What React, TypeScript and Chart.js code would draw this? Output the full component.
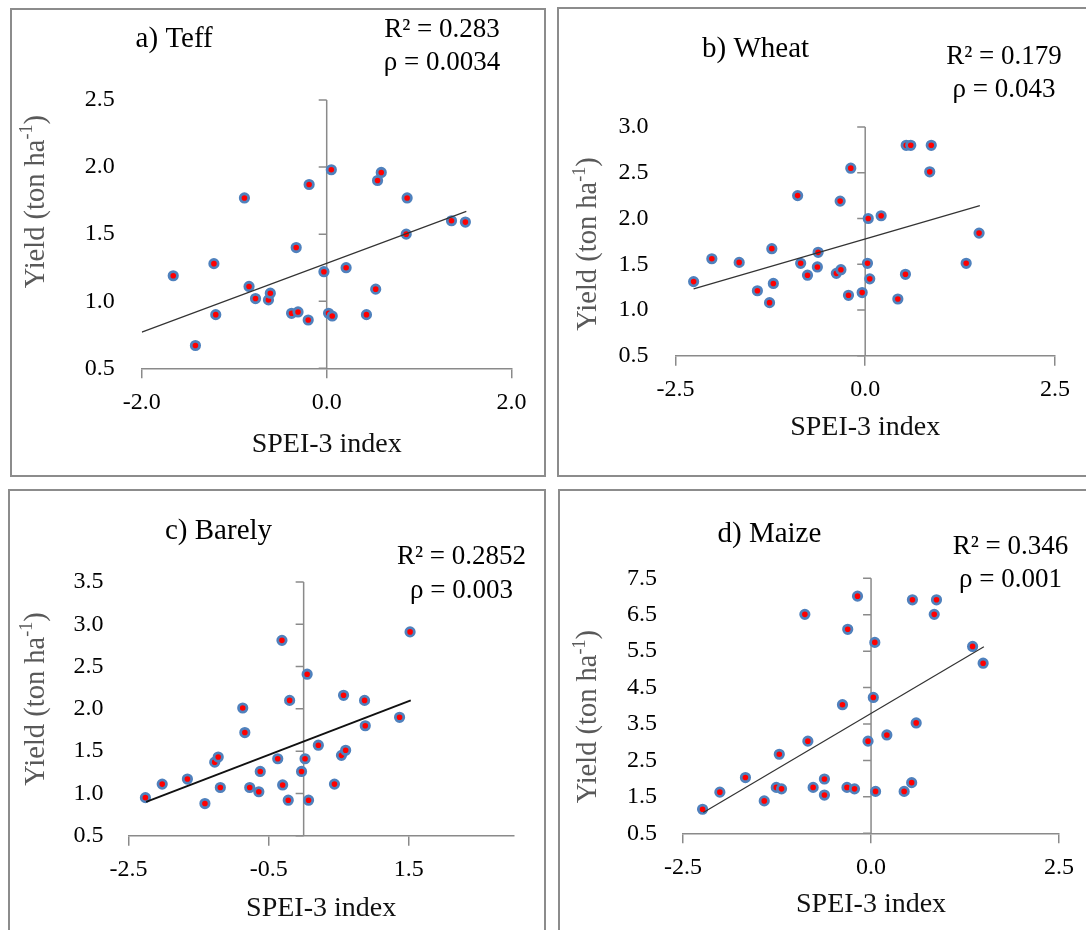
import React, { useEffect, useRef } from "react";
import { Chart, registerables } from "chart.js";

Chart.register(...registerables);

// ---------- data ----------
const teffX = [-1.66, -1.42, -1.22, -1.2, -0.89, -0.84, -0.77, -0.63, -0.61, -0.38, -0.31, -0.33, -0.2, -0.19, -0.03, 0.02, 0.06, 0.05, 0.21, 0.43, 0.53, 0.55, 0.59, 0.86, 0.87, 1.35, 1.5];
const teffY = [1.19, 0.67, 1.28, 0.9, 1.77, 1.11, 1.02, 1.01, 1.06, 0.91, 0.92, 1.4, 0.86, 1.87, 1.22, 0.91, 0.89, 1.98, 1.25, 0.9, 1.09, 1.9, 1.96, 1.5, 1.77, 1.6, 1.59];
const teffTrendX = [-2.0, 1.51];
const teffTrendY = [0.77, 1.67];
const teffXTicks = [-2.0, 0.0, 2.0];
const teffYTicks = [0.5, 1.0, 1.5, 2.0, 2.5];

const wheatX = [-2.26, -2.02, -1.66, -1.42, -1.26, -1.23, -1.21, -0.89, -0.85, -0.76, -0.63, -0.62, -0.38, -0.32, -0.33, -0.22, -0.19, -0.04, 0.03, 0.04, 0.06, 0.21, 0.43, 0.53, 0.54, 0.6, 0.87, 0.85, 1.33, 1.5];
const wheatY = [1.31, 1.56, 1.52, 1.21, 1.08, 1.67, 1.29, 2.25, 1.51, 1.38, 1.47, 1.63, 1.4, 1.44, 2.19, 1.16, 2.55, 1.19, 1.51, 2.0, 1.34, 2.03, 1.12, 1.39, 2.8, 2.8, 2.8, 2.51, 1.51, 1.84];
const wheatTrendX = [-2.26, 1.51];
const wheatTrendY = [1.23, 2.14];
const wheatXTicks = [-2.5, 0.0, 2.5];
const wheatYTicks = [0.5, 1.0, 1.5, 2.0, 2.5, 3.0];

const barleyX = [-2.26, -2.02, -1.66, -1.41, -1.27, -1.22, -1.19, -0.87, -0.84, -0.77, -0.64, -0.62, -0.37, -0.31, -0.3, -0.22, -0.2, -0.03, 0.02, 0.05, 0.07, 0.21, 0.44, 0.54, 0.57, 0.6, 0.87, 0.88, 1.37, 1.52];
const barleyY = [0.95, 1.11, 1.17, 0.88, 1.37, 1.43, 1.07, 2.01, 1.72, 1.07, 1.02, 1.26, 1.41, 2.81, 1.1, 0.92, 2.1, 1.26, 1.41, 2.41, 0.92, 1.57, 1.11, 1.45, 2.16, 1.51, 2.1, 1.8, 1.9, 2.91];
const barleyTrendX = [-2.25, 1.53];
const barleyTrendY = [0.9, 2.1];
const barleyXTicks = [-2.5, -0.5, 1.5];
const barleyYTicks = [0.5, 1.0, 1.5, 2.0, 2.5, 3.0, 3.5];

const maizeX = [-2.24, -2.01, -1.67, -1.42, -1.26, -1.19, -1.22, -0.88, -0.84, -0.77, -0.62, -0.62, -0.38, -0.32, -0.31, -0.22, -0.18, -0.04, 0.03, 0.05, 0.06, 0.21, 0.44, 0.54, 0.55, 0.6, 0.84, 0.87, 1.35, 1.49];
const maizeY = [1.16, 1.63, 2.03, 1.39, 1.76, 1.72, 2.67, 6.51, 3.03, 1.76, 1.55, 1.99, 4.03, 1.76, 6.1, 1.72, 7.01, 3.03, 4.23, 5.74, 1.65, 3.2, 1.65, 1.89, 6.91, 3.53, 6.51, 6.91, 5.63, 5.17];
const maizeTrendX = [-2.23, 1.5];
const maizeTrendY = [1.07, 5.62];
const maizeXTicks = [-2.5, 0.0, 2.5];
const maizeYTicks = [0.5, 1.5, 2.5, 3.5, 4.5, 5.5, 6.5, 7.5];

const panelTitles = ["a) Teff", "b) Wheat", "c) Barely", "d) Maize"];
const r2Labels = ["R\u00B2 = 0.283", "R\u00B2 = 0.179", "R\u00B2 = 0.2852", "R\u00B2 = 0.346"];
const rhoLabels = ["\u03C1 = 0.0034", "\u03C1 = 0.043", "\u03C1 = 0.003", "\u03C1 = 0.001"];
const xAxisTitle = "SPEI-3 index";
const yAxisTitleMain = "Yield (ton ha";
const yAxisTitleSup = "-1";
const yAxisTitleEnd = ")";

// ---------- styling / layout ----------
const FONT = "'Liberation Serif', 'Times New Roman', serif";
const AXIS_COLOR = "#8a8a8a";
const BORDER_COLOR = "#8c8c8c";

type Geo = {
  box: { left: number; top: number; width: number; height: number };
  area: { l: number; r: number; t: number; b: number };
  xr: [number, number];
  yr: [number, number];
  yPad: number;
  title: [number, number];
  r2: [number, number];
  rho: [number, number];
  yTitle: [number, number];
  xTitleY: number;
  trendWidth: number;
  trendColor: string;
};

type PanelDef = { x: number[]; y: number[]; tx: number[]; ty: number[]; xt: number[]; yt: number[]; g: Geo; idx: number };

const panels: PanelDef[] = [
  {
    x: teffX, y: teffY, tx: teffTrendX, ty: teffTrendY, xt: teffXTicks, yt: teffYTicks, idx: 0,
    g: {
      box: { left: 10, top: 8, width: 536, height: 469 },
      area: { l: 141.8, r: 511.6, t: 100, b: 368.3 },
      xr: [-2, 2], yr: [0.5, 2.5], yPad: 27,
      title: [135.6, 39.5], r2: [442, 30], rho: [442, 63.3],
      yTitle: [36.5, 201.7], xTitleY: 445, trendWidth: 1.2, trendColor: "#333333",
    },
  },
  {
    x: wheatX, y: wheatY, tx: wheatTrendX, ty: wheatTrendY, xt: wheatXTicks, yt: wheatYTicks, idx: 1,
    g: {
      box: { left: 557, top: 7, width: 540, height: 470 },
      area: { l: 675.4, r: 1055, t: 127, b: 355.7 },
      xr: [-2.5, 2.5], yr: [0.5, 3.0], yPad: 27,
      title: [702, 49], r2: [1004, 56.7], rho: [1004, 90],
      yTitle: [589, 244], xTitleY: 428, trendWidth: 1.2, trendColor: "#333333",
    },
  },
  {
    x: barleyX, y: barleyY, tx: barleyTrendX, ty: barleyTrendY, xt: barleyXTicks, yt: barleyYTicks, idx: 2,
    g: {
      box: { left: 8, top: 489, width: 538, height: 460 },
      area: { l: 128.6, r: 513.7, t: 582, b: 835.7 },
      xr: [-2.5, 3.0], yr: [0.5, 3.5], yPad: 25,
      title: [165, 531], r2: [461.5, 557.3], rho: [461.5, 590.7],
      yTitle: [36.5, 699], xTitleY: 909, trendWidth: 2, trendColor: "#111111",
    },
  },
  {
    x: maizeX, y: maizeY, tx: maizeTrendX, ty: maizeTrendY, xt: maizeXTicks, yt: maizeYTicks, idx: 3,
    g: {
      box: { left: 558, top: 489, width: 540, height: 460 },
      area: { l: 683, r: 1059.1, t: 578.3, b: 833.3 },
      xr: [-2.5, 2.5], yr: [0.5, 7.5], yPad: 26,
      title: [717.5, 534], r2: [1010.5, 546.7], rho: [1010.5, 580],
      yTitle: [589, 716.7], xTitleY: 905, trendWidth: 1.2, trendColor: "#333333",
    },
  },
];

function Panel({ p }: { p: PanelDef }) {
  const ref = useRef<HTMLCanvasElement>(null);
  const g = p.g;
  const bx = g.box.left + 2;
  const by = g.box.top + 2;
  const cw = g.box.width - 4;
  const ch = g.box.height - 4;

  useEffect(() => {
    if (!ref.current) return;
    const L = g.area.l - bx;
    const R = g.area.r - bx;
    const T = g.area.t - by;
    const B = g.area.b - by;
    const yW = 60;
    const xTitleSize = 28;
    const xH = g.xTitleY - g.area.b + (xTitleSize * 1.2) / 2;

    const decor = {
      id: "decor",
      beforeDatasetsDraw(chart: any) {
        const { ctx, chartArea, scales } = chart;
        const x0 = scales.x.getPixelForValue(0);
        ctx.save();
        ctx.strokeStyle = AXIS_COLOR;
        ctx.lineWidth = 1.5;
        ctx.beginPath();
        ctx.moveTo(x0, chartArea.top);
        ctx.lineTo(x0, chartArea.bottom);
        for (const t of scales.y.ticks) {
          const yy = scales.y.getPixelForValue(t.value);
          ctx.moveTo(x0 - 8, yy);
          ctx.lineTo(x0, yy);
        }
        ctx.stroke();
        ctx.restore();
      },
      afterDraw(chart: any) {
        const { ctx } = chart;
        ctx.save();
        ctx.fillStyle = "#000";
        ctx.textBaseline = "middle";
        ctx.font = `29px ${FONT}`;
        ctx.textAlign = "left";
        ctx.fillText(panelTitles[p.idx], g.title[0] - bx, g.title[1] - by);
        ctx.font = `27px ${FONT}`;
        ctx.textAlign = "center";
        ctx.fillText(r2Labels[p.idx], g.r2[0] - bx, g.r2[1] - by);
        ctx.fillText(rhoLabels[p.idx], g.rho[0] - bx, g.rho[1] - by);
        ctx.translate(g.yTitle[0] - bx, g.yTitle[1] - by);
        ctx.rotate(-Math.PI / 2);
        ctx.fillStyle = "#595959";
        ctx.textAlign = "left";
        const mainFont = `28.5px ${FONT}`;
        const supFont = `18px ${FONT}`;
        ctx.font = mainFont;
        const w1 = ctx.measureText(yAxisTitleMain).width;
        const w3 = ctx.measureText(yAxisTitleEnd).width;
        ctx.font = supFont;
        const w2 = ctx.measureText(yAxisTitleSup).width;
        let sx = -(w1 + w2 + w3) / 2;
        ctx.font = mainFont;
        ctx.fillText(yAxisTitleMain, sx, 0);
        sx += w1;
        ctx.font = supFont;
        ctx.fillText(yAxisTitleSup, sx, -9);
        sx += w2;
        ctx.font = mainFont;
        ctx.fillText(yAxisTitleEnd, sx, 0);
        ctx.restore();
      },
    };

    const chart = new Chart(ref.current, {
      type: "scatter",
      data: {
        datasets: [
          {
            type: "scatter",
            data: p.x.map((v, i) => ({ x: v, y: p.y[i] })),
            pointRadius: 4.2,
            pointHoverRadius: 4.2,
            pointBorderWidth: 2.8,
            pointBackgroundColor: "#ff0000",
            pointBorderColor: "#4f81bd",
            order: 2,
          } as any,
          {
            type: "line",
            data: p.tx.map((v, i) => ({ x: v, y: p.ty[i] })),
            borderColor: g.trendColor,
            borderWidth: g.trendWidth,
            pointRadius: 0,
            fill: false,
            showLine: true,
            order: 1,
          } as any,
        ],
      },
      options: {
        responsive: false,
        animation: false,
        events: [],
        layout: {
          padding: { left: L - yW, top: T, right: cw - R, bottom: ch - B - xH },
        },
        plugins: { legend: { display: false }, tooltip: { enabled: false }, title: { display: false } },
        scales: {
          x: {
            type: "linear",
            position: "bottom",
            min: g.xr[0],
            max: g.xr[1],
            afterFit: (s: any) => { s.height = xH; },
            afterBuildTicks: (s: any) => { s.ticks = p.xt.map((v) => ({ value: v })); },
            ticks: {
              padding: 10,
              color: "#000",
              font: { family: FONT, size: 24 },
              callback: (v: any) => Number(v).toFixed(1),
              maxRotation: 0,
              autoSkip: false,
            },
            grid: { display: true, drawOnChartArea: false, drawTicks: true, tickLength: 10, color: AXIS_COLOR, lineWidth: 1.5 },
            border: { display: true, color: AXIS_COLOR, width: 1.5 },
            title: {
              display: true,
              text: xAxisTitle,
              color: "#111",
              font: { family: FONT, size: xTitleSize },
              padding: { top: 0, bottom: 0 },
            },
          },
          y: {
            type: "linear",
            position: "left",
            min: g.yr[0],
            max: g.yr[1],
            afterFit: (s: any) => { s.width = yW; },
            afterBuildTicks: (s: any) => { s.ticks = p.yt.map((v) => ({ value: v })); },
            ticks: {
              padding: g.yPad,
              color: "#000",
              font: { family: FONT, size: 24 },
              callback: (v: any) => Number(v).toFixed(1),
              autoSkip: false,
            },
            grid: { display: false, drawTicks: false },
            border: { display: false },
          },
        },
      } as any,
      plugins: [decor],
    });
    return () => chart.destroy();
  }, []);

  return (
    <div
      style={{
        position: "absolute",
        left: g.box.left,
        top: g.box.top,
        width: g.box.width,
        height: g.box.height,
        boxSizing: "border-box",
        border: `2px solid ${BORDER_COLOR}`,
        background: "#fff",
      }}
    >
      <canvas
        ref={ref}
        width={cw}
        height={ch}
        style={{ position: "absolute", left: 0, top: 0, width: cw, height: ch }}
      />
    </div>
  );
}

export default function App() {
  return (
    <div
      style={{
        position: "absolute",
        left: 0,
        top: 0,
        width: 1086,
        height: 930,
        overflow: "hidden",
        background: "#fff",
      }}
    >
      {panels.map((p) => (
        <Panel key={p.idx} p={p} />
      ))}
    </div>
  );
}
